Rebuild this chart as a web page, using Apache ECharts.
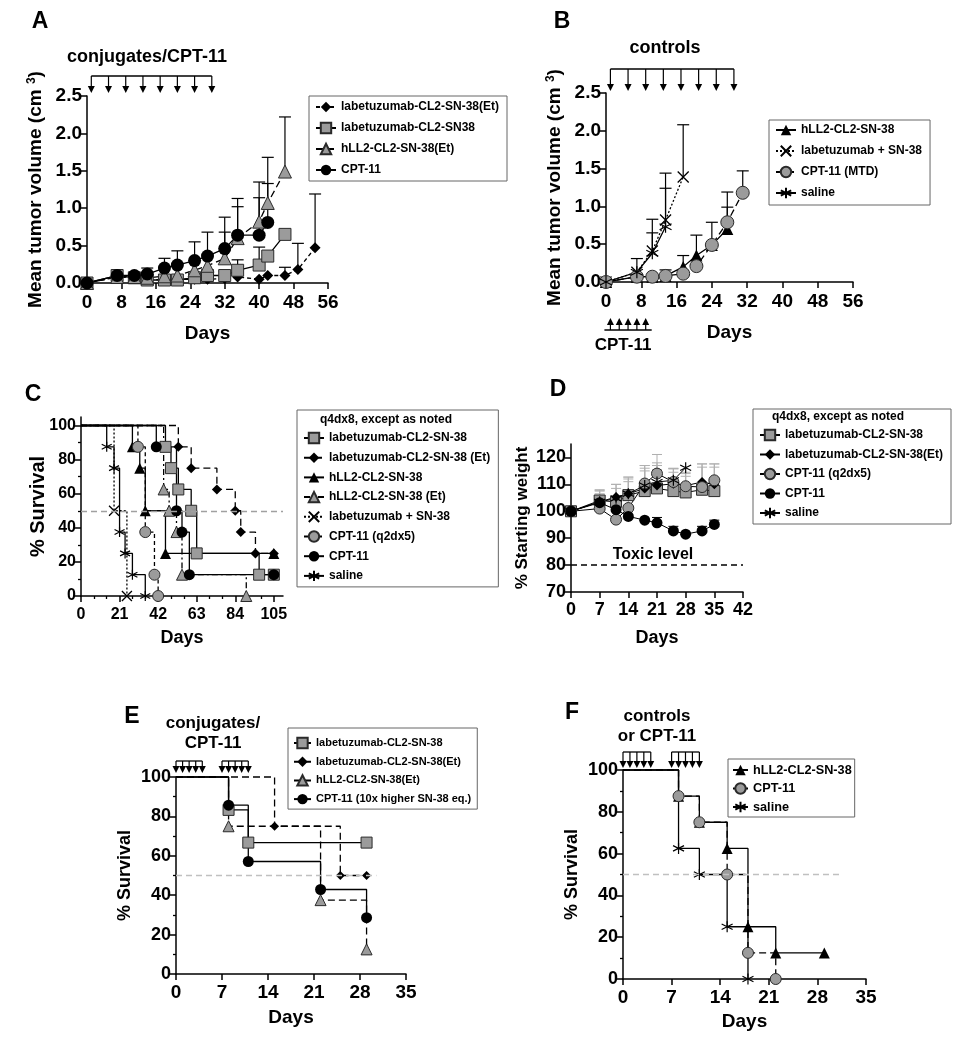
<!DOCTYPE html>
<html><head><meta charset="utf-8">
<script src="https://cdn.jsdelivr.net/npm/echarts@6/dist/echarts.min.js"></script>
<style>html,body{margin:0;padding:0;background:#fff}#c{width:954px;height:1050px}</style>
</head><body><div id="c"></div>
<script>
// ---------- Panel A: tumor volume, conjugates / CPT-11 ----------
const A_days = [0,7,11,14,18,21,25,28,32,35,40,42,46];
const A_labEt_days = [0,7,11,14,18,21,25,28,32,35,40,42,46,49,53];
const A_labEt = [0,0.08,0.07,0.05,0.04,0.05,0.05,0.05,0.06,0.08,0.05,0.1,0.1,0.18,0.47];
const A_labEt_err = [null,null,null,null,null,null,null,null,null,null,null,null,0.21,0.53,1.19];
const A_lab = [0,0.1,0.07,0.04,0.04,0.04,0.07,0.1,0.1,0.17,0.24,0.36,0.65];
const A_lab_err = [null,null,null,null,null,null,null,0.14,0.16,0.31,0.48,null,null];
const A_hll = [0,0.08,0.08,0.07,0.09,0.1,0.17,0.23,0.33,0.6,0.82,1.07,1.49];
const A_hll_err = [null,null,null,null,null,null,null,null,0.68,1.02,1.35,1.68,2.22];
const A_cpt_days = [0,7,11,14,18,21,25,28,32,35,40,42];
const A_cpt = [0,0.1,0.1,0.12,0.2,0.24,0.3,0.36,0.46,0.64,0.64,0.81];
const A_cpt_err = [null,null,null,0.2,0.33,0.43,0.55,0.68,0.88,1.13,1.14,1.33];
const A_doses = [1,5,9,13,17,21,25,29];

// ---------- Panel B: tumor volume, controls ----------
const B_days = [0,7,10.5,13.5,17.5,20.5,24,27.5,31];
const B_hll = [0,0.07,0.07,0.08,0.2,0.35,0.49,0.7];
const B_hll_err = [null,null,null,null,0.35,0.62,0.79,0.99];
const B_lab_days = [0,7,10.5,13.5,17.5];
const B_lab = [0,0.13,0.41,0.82,1.39];
const B_lab_err = [null,0.31,0.83,1.44,2.08];
const B_cpt = [0,0.07,0.07,0.08,0.11,0.21,0.49,0.79,1.18];
const B_cpt_err = [null,null,null,0.16,null,null,null,1.19,1.47];
const B_sal_days = [0,7,10.5,13.5];
const B_sal = [0,0.13,0.38,0.73];
const B_sal_err = [null,null,0.65,1.24];
const B_doses = [1,5,9,13,17,21,25,29];
const B_cptDoses = [1,3,5,7,9];

// ---------- Panel C: survival ----------
const C_lab_d = [46,49,53,60,63,97,105];      const C_lab = [87.5,75,62.5,50,25,12.5,12.5];
const C_labEt_d = [53,60,74,84,87,95,105];    const C_labEt = [87.5,75,62.5,50,37.5,25,25];
const C_hll_d = [28,32,35,46,105];            const C_hll = [87.5,75,50,25,25];
const C_hllEt_d = [45,48,52,55,90];           const C_hllEt = [62.5,50,37.5,12.5,0];
const C_labSN_d = [18,25];                    const C_labSN = [50,0];
const C_cptq2_d = [31,35,40,42];              const C_cptq2 = [87.5,37.5,12.5,0];
const C_cpt_d = [41,52,55,59,105];            const C_cpt = [87.5,50,37.5,12.5,12.5];
const C_sal_d = [14,18,21,24,28,35];          const C_sal = [87.5,75,37.5,25,12.5,0];
const C_median = 50;
const C_xticks = [0,21,42,63,84,105];
const C_xminor = [7,14,28,35,49,56,70,77,91,98];
const SURV_yticks = [0,20,40,60,80,100];
const SURV_yminor = [10,30,50,70,90];

// ---------- Panel D: body weight ----------
const D_days = [0,7,11,14,18,21,25,28,32,35];
const D_lab = [100,104,103.5,106,107.5,108.5,107.5,107,108,107.5];
const D_lab_err = [null,106.5,108.5,111,115,115.5,114.5,113,116.4,116.4];
const D_labEt = [100,103.5,105.3,106.5,108.5,109.6,110.2,109.5,110.9,110];
const D_labEt_err = [null,107.5,110,112.7,116,117,115.8,114,117.6,117.6];
const D_cptq2 = [100,101,96.9,101.2,110.3,114,110.9,109.3,109,111.5];
const D_cptq2_err = [null,107.8,104,112,117,121.1,115.8,114.5,117.6,117.6];
const D_cpt = [100,103.2,100.6,98.1,96.7,95.7,92.7,91.5,92.7,95.1];
const D_cpt_err = [null,null,null,null,null,97.7,94.4,null,94.4,96.7];
const D_sal_days = [0,7,11,14,18,21,25,28];
const D_sal = [100,103.5,104.8,106.5,109.6,110.9,111.5,116.2];
const D_sal_err = [null,108,110,112.7,117,118,116,null];
const D_toxic = 80;
const D_yticks = [70,80,90,100,110,120];

// ---------- Panel E: survival, conjugates / CPT-11 ----------
const E_lab_d = [8,11,29];        const E_lab = [83.3,66.7,66.7];
const E_labEt_d = [15,25,29];     const E_labEt = [75,50,50];
const E_hllEt_d = [8,22,29];      const E_hllEt = [75,37.5,12.5];
const E_cpt_d = [8,11,22,29];     const E_cpt = [85.7,57.1,42.9,28.6];
const E_medianEnd = 30.5;
const E_doses1 = [0,1,2,3,4];
const E_doses2 = [7,8,9,10,11];

// ---------- Panel F: survival, controls / CPT-11 ----------
const F_hll_d = [8,11,15,18,22,29];   const F_hll = [87.5,75,62.5,25,12.5,12.5];
const F_cpt_d = [8,11,15,18,22];      const F_cpt = [87.5,75,50,12.5,0];
const F_sal_d = [8,11,15,18];         const F_sal = [62.5,50,25,0];
const F_medianEnd = 31.5;
const F_doses1 = [0,1,2,3,4];
const F_doses2 = [7,8,9,10,11];

// ================= rendering =================
const FONT = "'Liberation Sans', Arial, sans-serif";
const BLACK = '#000', GRAY = '#9b9b9b', EDGE = '#2a2a2a';
const SYM = {
  diamond:  {symbol:'diamond', size:11, item:{color:BLACK}},
  square:   {symbol:'rect', size:12, item:{color:GRAY, borderColor:EDGE, borderWidth:1}},
  triGray:  {symbol:'triangle', size:13, item:{color:GRAY, borderColor:EDGE, borderWidth:1}},
  triBlack: {symbol:'triangle', size:12, item:{color:BLACK}},
  circBlack:{symbol:'circle', size:13, item:{color:BLACK}},
  circGray: {symbol:'circle', size:13, item:{color:GRAY, borderColor:EDGE, borderWidth:1}},
  cross:    {symbol:'path://M0,0L10,10M10,0L0,10', size:11, item:{color:'rgba(0,0,0,0)', borderColor:BLACK, borderWidth:1.3}},
  star:     {symbol:'path://M5,0L5,10M0.67,2.5L9.33,7.5M9.33,2.5L0.67,7.5', size:12, item:{color:'rgba(0,0,0,0)', borderColor:BLACK, borderWidth:1.2}}
};

function ser(name, g, xs, ys, sym, o) {
  o = o || {};
  const data = xs.map((x, i) => [x, ys[i]]);
  if (o.km) data.unshift({value:[0,100], symbol:'none'});
  const s = {type:'line', name, xAxisIndex:g, yAxisIndex:g, data,
    symbol:sym.symbol, symbolSize:o.size || sym.size, showAllSymbol:true,
    itemStyle:sym.item, lineStyle:{color:BLACK, width:o.w || 1.3, type:o.dash || 'solid'},
    step:o.km ? 'end' : false, clip:false, z:o.z || 3, silent:true, emphasis:{disabled:true}};
  if (o.markLine) s.markLine = o.markLine;
  return s;
}
function errs(g, xs, ys, ups, color, cap, w) {
  const data = [];
  xs.forEach((x, i) => { if (ups[i] != null) data.push([x, ys[i], ups[i]]); });
  return {type:'custom', xAxisIndex:g, yAxisIndex:g, data, clip:false, silent:true, z:2,
    renderItem:(p, api) => {
      const a = api.coord([api.value(0), api.value(1)]);
      const b = api.coord([api.value(0), api.value(2)]);
      return {type:'group', children:[
        {type:'line', shape:{x1:a[0], y1:a[1], x2:b[0], y2:b[1]}, style:{stroke:color, lineWidth:w}},
        {type:'line', shape:{x1:b[0]-cap, y1:b[1], x2:b[0]+cap, y2:b[1]}, style:{stroke:color, lineWidth:w}}]};
    }};
}
// dosing arrows: groups of days, anchored at value yRef; offsets in px
function arrows(g, groups, yRef, lineOff, tipOff, padL, padR) {
  return {type:'custom', xAxisIndex:g, yAxisIndex:g, data:[[0, yRef]], clip:false, silent:true, z:6,
    renderItem:(p, api) => {
      const ch = [];
      const y0 = api.coord([0, yRef])[1];
      const yl = y0 + lineOff, yt = y0 + tipOff;
      const dir = Math.sign(tipOff - lineOff);
      groups.forEach(days => {
        const xs = days.map(d => api.coord([d, yRef])[0]);
        ch.push({type:'line', shape:{x1:xs[0] + padL, y1:yl, x2:xs[xs.length-1] + padR, y2:yl}, style:{stroke:BLACK, lineWidth:1.3}});
        xs.forEach(x => {
          const hb = yt - dir * 7;
          ch.push({type:'line', shape:{x1:x, y1:yl, x2:x, y2:hb}, style:{stroke:BLACK, lineWidth:1.2}});
          ch.push({type:'polygon', shape:{points:[[x-3.5, hb], [x+3.5, hb], [x, yt]]}, style:{fill:BLACK}});
        });
      });
      return {type:'group', children:ch};
    }};
}

function axis(g, min, max, o) {
  const ax = {gridIndex:g, type:'value', min, max, splitLine:{show:false},
    axisLine:{show:true, onZero:false, lineStyle:{color:BLACK, width:1.5}},
    axisTick:{show:true, length:6, lineStyle:{color:BLACK, width:1.5}},
    axisLabel:{fontSize:o.fs, fontWeight:'bold', fontFamily:FONT, color:BLACK, margin:o.margin || 5, hideOverlap:false},
    name:o.name, nameLocation:'middle', nameGap:o.gap, nameRotate:o.rot || 0, nameMoveOverlap:false,
    nameTextStyle:{fontSize:o.nfs, fontWeight:'bold', fontFamily:FONT, color:BLACK, rich:o.rich}};
  if (o.interval) ax.interval = o.interval;
  if (o.ticks) { ax.axisLabel.customValues = o.ticks; ax.axisTick.customValues = o.ticks; }
  if (o.fmt) ax.axisLabel.formatter = o.fmt;
  return ax;
}
function minorAxis(g, min, max, vals, pos) {
  return {gridIndex:g, type:'value', min, max, position:pos, splitLine:{show:false},
    axisLine:{show:false, onZero:false}, axisLabel:{show:false, customValues:vals},
    axisTick:{show:true, length:3, customValues:vals, lineStyle:{color:BLACK, width:1.3}}};
}

const supRich = {sup:{fontSize:12, fontWeight:'bold', fontFamily:FONT, color:BLACK, verticalAlign:'top'}};

const xAxis = [
  axis(0, 0, 56, {interval:8, fs:19, margin:10, name:'Days', gap:41, nfs:19}),
  axis(1, 0, 56, {interval:8, fs:19, margin:10, name:'Days', gap:41, nfs:19}),
  axis(2, 0, 110, {ticks:C_xticks, fs:16, margin:11, name:'Days', gap:33, nfs:18}),
  axis(3, 0, 42, {interval:7, fs:18, margin:9, name:'Days', gap:37, nfs:18}),
  axis(4, 0, 35, {interval:7, fs:19, margin:9, name:'Days', gap:34, nfs:19}),
  axis(5, 0, 35, {interval:7, fs:19, margin:9, name:'Days', gap:33, nfs:19}),
  minorAxis(2, 0, 110, C_xminor, 'bottom')
];
const yAxis = [
  axis(0, 0, 2.5, {interval:0.5, fs:19, fmt:v => v.toFixed(1), name:'Mean tumor volume (cm {sup|3})', gap:42, nfs:19, rot:90, rich:supRich}),
  axis(1, 0, 2.5, {interval:0.5, fs:19, fmt:v => v.toFixed(1), name:'Mean tumor volume (cm {sup|3})', gap:42, nfs:19, rot:90, rich:supRich}),
  axis(2, 0, 105, {ticks:SURV_yticks, fs:16, name:'% Survival', gap:33, nfs:20, rot:90}),
  axis(3, 70, 125, {ticks:D_yticks, fs:18, name:'% Starting weight', gap:40, nfs:17, rot:90}),
  axis(4, 0, 100, {interval:20, fs:18, name:'% Survival', gap:42, nfs:18, rot:90}),
  axis(5, 0, 100, {interval:20, fs:18, name:'% Survival', gap:42, nfs:18, rot:90}),
  minorAxis(2, 0, 105, SURV_yminor, 'left'),
  minorAxis(4, 0, 100, SURV_yminor, 'left'),
  minorAxis(5, 0, 100, SURV_yminor, 'left')
];

const medianStyle = {type:[6,4], color:'#a0a0a0', width:1.3};
const series = [
  // A
  errs(0, A_labEt_days, A_labEt, A_labEt_err, BLACK, 6, 1.2),
  errs(0, A_days, A_lab, A_lab_err, BLACK, 6, 1.2),
  errs(0, A_days, A_hll, A_hll_err, BLACK, 6, 1.2),
  errs(0, A_cpt_days, A_cpt, A_cpt_err, BLACK, 6, 1.2),
  ser('labetuzumab-CL2-SN-38(Et)#A', 0, A_labEt_days, A_labEt, SYM.diamond, {dash:[4,3]}),
  ser('labetuzumab-CL2-SN38#A', 0, A_days, A_lab, SYM.square),
  ser('hLL2-CL2-SN-38(Et)#A', 0, A_days, A_hll, SYM.triGray, {dash:[7,4]}),
  ser('CPT-11#A', 0, A_cpt_days, A_cpt, SYM.circBlack),
  arrows(0, [A_doses], 2.5, -20, -3, 0, 0),
  // B
  errs(1, B_days, B_hll, B_hll_err, BLACK, 6, 1.2),
  errs(1, B_lab_days, B_lab, B_lab_err, BLACK, 6, 1.2),
  errs(1, B_days, B_cpt, B_cpt_err, BLACK, 6, 1.2),
  errs(1, B_sal_days, B_sal, B_sal_err, BLACK, 6, 1.2),
  ser('hLL2-CL2-SN-38#B', 1, B_days, B_hll, SYM.triBlack),
  ser('labetuzumab + SN-38#B', 1, B_lab_days, B_lab, SYM.cross, {dash:[2,2]}),
  ser('CPT-11 (MTD)#B', 1, B_days, B_cpt, SYM.circGray, {dash:[7,4]}),
  ser('saline#B', 1, B_sal_days, B_sal, SYM.star),
  arrows(1, [B_doses], 2.5, -24, -2, 0, 0),
  arrows(1, [B_cptDoses], 0, 48, 36, -6, 6),
  // C
  ser('labetuzumab-CL2-SN-38#C', 2, C_lab_d, C_lab, SYM.square, {km:true, size:11,
    markLine:{silent:true, symbol:'none', label:{show:false}, lineStyle:medianStyle, data:[{yAxis:C_median}]}}),
  ser('labetuzumab-CL2-SN-38 (Et)#C', 2, C_labEt_d, C_labEt, SYM.diamond, {km:true, dash:[7,4], size:10}),
  ser('hLL2-CL2-SN-38#C', 2, C_hll_d, C_hll, SYM.triBlack, {km:true, size:11}),
  ser('hLL2-CL2-SN-38 (Et)#C', 2, C_hllEt_d, C_hllEt, SYM.triGray, {km:true, dash:[6,3,2,3], size:11}),
  ser('labetuzumab + SN-38#C', 2, C_labSN_d, C_labSN, SYM.cross, {km:true, dash:[2,2], size:10}),
  ser('CPT-11 (q2dx5)#C', 2, C_cptq2_d, C_cptq2, SYM.circGray, {km:true, dash:[4,3], size:11}),
  ser('CPT-11#C', 2, C_cpt_d, C_cpt, SYM.circBlack, {km:true, size:11}),
  ser('saline#C', 2, C_sal_d, C_sal, SYM.star, {km:true, size:10}),
  // D
  errs(3, D_days, D_lab, D_lab_err, '#b0b0b0', 5, 1),
  errs(3, D_days, D_labEt, D_labEt_err, '#b0b0b0', 5, 1),
  errs(3, D_days, D_cptq2, D_cptq2_err, '#b0b0b0', 5, 1),
  errs(3, D_sal_days, D_sal, D_sal_err, '#b0b0b0', 5, 1),
  errs(3, D_days, D_cpt, D_cpt_err, BLACK, 5, 1),
  ser('labetuzumab-CL2-SN-38#D', 3, D_days, D_lab, SYM.square, {w:1, size:11,
    markLine:{silent:true, symbol:'none', label:{show:false}, lineStyle:{type:[6,4], color:BLACK, width:1.5}, data:[{yAxis:D_toxic}]}}),
  ser('labetuzumab-CL2-SN-38(Et)#D', 3, D_days, D_labEt, SYM.diamond, {w:1, size:10}),
  ser('CPT-11 (q2dx5)#D', 3, D_days, D_cptq2, SYM.circGray, {w:1, size:11}),
  ser('CPT-11#D', 3, D_days, D_cpt, SYM.circBlack, {w:1, size:11}),
  ser('saline#D', 3, D_sal_days, D_sal, SYM.star, {w:1, size:11}),
  // E
  ser('labetuzumab-CL2-SN-38#E', 4, E_lab_d, E_lab, SYM.square, {km:true, size:11,
    markLine:{silent:true, symbol:'none', label:{show:false}, lineStyle:{type:[6,4], color:'#c0c0c0', width:1.3},
      data:[[{coord:[0, C_median]}, {coord:[E_medianEnd, C_median]}]]}}),
  ser('labetuzumab-CL2-SN-38(Et)#E', 4, E_labEt_d, E_labEt, SYM.diamond, {km:true, dash:[7,4], size:9}),
  ser('hLL2-CL2-SN-38(Et)#E', 4, E_hllEt_d, E_hllEt, SYM.triGray, {km:true, dash:[7,4], size:11}),
  ser('CPT-11 (10x higher SN-38 eq.)#E', 4, E_cpt_d, E_cpt, SYM.circBlack, {km:true, size:11}),
  arrows(4, [E_doses1, E_doses2], 100, -16, -4, 0, 0),
  // F
  ser('hLL2-CL2-SN-38#F', 5, F_hll_d, F_hll, SYM.triBlack, {km:true, size:11,
    markLine:{silent:true, symbol:'none', label:{show:false}, lineStyle:{type:[6,4], color:'#c0c0c0', width:1.3},
      data:[[{coord:[0, C_median]}, {coord:[F_medianEnd, C_median]}]]}}),
  ser('CPT-11#F', 5, F_cpt_d, F_cpt, SYM.circGray, {km:true, dash:[7,4], size:11}),
  ser('saline#F', 5, F_sal_d, F_sal, SYM.star, {km:true, size:11}),
  arrows(5, [F_doses1, F_doses2], 100, -18, -2, 0, 0)
];

function leg(names, left, top, pad, gap, fs, iw) {
  return {data:names, orient:'vertical', left, top, padding:pad, itemGap:gap, itemWidth:iw || 20, itemHeight:13,
    borderColor:'#666', borderWidth:1, borderRadius:0, selectedMode:false,
    textStyle:{fontSize:fs || 12, fontWeight:'bold', fontFamily:FONT, color:BLACK, lineHeight:14},
    formatter:n => n.split('#')[0]};
}
const legend = [
  leg(['labetuzumab-CL2-SN-38(Et)#A','labetuzumab-CL2-SN38#A','hLL2-CL2-SN-38(Et)#A','CPT-11#A'], 309, 96, [4,8,4,6], 7),
  leg(['hLL2-CL2-SN-38#B','labetuzumab + SN-38#B','CPT-11 (MTD)#B','saline#B'], 769, 120, [3,8,5,6], 7),
  leg(['labetuzumab-CL2-SN-38#C','labetuzumab-CL2-SN-38 (Et)#C','hLL2-CL2-SN-38#C','hLL2-CL2-SN-38 (Et)#C',
       'labetuzumab + SN-38#C','CPT-11 (q2dx5)#C','CPT-11#C','saline#C'], 297, 410, [21,8,4,6], 5.7),
  leg(['labetuzumab-CL2-SN-38#D','labetuzumab-CL2-SN-38(Et)#D','CPT-11 (q2dx5)#D','CPT-11#D','saline#D'], 753, 409, [19,8,4,6], 5.5),
  leg(['labetuzumab-CL2-SN-38#E','labetuzumab-CL2-SN-38(Et)#E','hLL2-CL2-SN-38(Et)#E','CPT-11 (10x higher SN-38 eq.)#E'], 288, 728, [8,6,3,5], 4.7, 11, 17),
  leg(['hLL2-CL2-SN-38#F','CPT-11#F','saline#F'], 728, 759, [4,3,3,4], 4.5, 12.7, 15)
];

const labels = [
  ['A', 40, 22, 23], ['B', 562, 22, 23], ['C', 33, 395, 23], ['D', 558, 390, 23], ['E', 132, 717, 23], ['F', 572, 713, 23],
  ['conjugates/CPT-11', 147, 57, 18], ['controls', 665, 48, 18], ['CPT-11', 623, 345, 17],
  ['q4dx8, except as noted', 386, 420, 12], ['q4dx8, except as noted', 838, 417, 12],
  ['Toxic level', 653, 555, 16],
  ['conjugates/', 213, 723, 17], ['CPT-11', 213, 743, 17],
  ['controls', 657, 716, 17], ['or CPT-11', 657, 736, 17]
];
const graphic = labels.map(([t, x, y, s]) => ({type:'text', x, y, z:10, silent:true,
  style:{text:t, x:0, y:0, align:'center', verticalAlign:'middle', fontSize:s, fontWeight:'bold', fontFamily:FONT, fill:BLACK}}));

const grid = [
  {left:87, top:96, width:241, height:187},
  {left:606, top:93, width:247, height:189},
  {left:81, top:417, width:202, height:179},
  {left:571, top:444, width:172, height:148},
  {left:176, top:777, width:230, height:197},
  {left:623, top:770, width:243, height:209}
].map(g => Object.assign(g, {containLabel:false, outerBoundsMode:'none'}));

const chart = echarts.init(document.getElementById('c'), null, {renderer:'canvas'});
chart.setOption({animation:false, backgroundColor:'#fff', grid, xAxis, yAxis, series, legend, graphic,
  textStyle:{fontFamily:FONT}});
</script></body></html>
